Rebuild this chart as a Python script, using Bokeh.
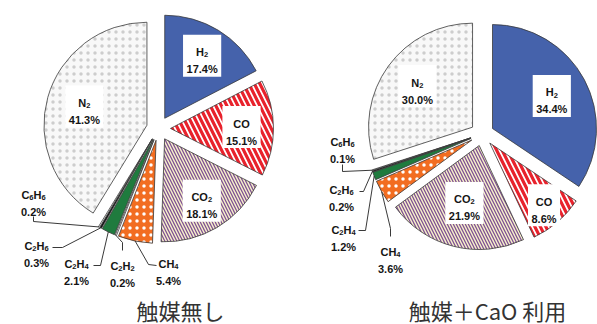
import re
import numpy as np
from bokeh.plotting import figure
from bokeh.models import Range1d, ColumnDataSource
from bokeh.embed import file_html
from bokeh.resources import INLINE
from bokeh.core.properties import value

# Product gas composition (%), clockwise from 12 o'clock
gases_a = ["H2", "CO", "CO2", "CH4", "C2H2", "C2H4", "C2H6", "C6H6", "N2"]
share_a = [17.4, 15.1, 18.1, 5.4, 0.2, 2.1, 0.3, 0.2, 41.3]
gases_b = ["H2", "CO", "CO2", "CH4", "C2H4", "C2H6", "C6H6", "N2"]
share_b = [34.4, 8.6, 21.9, 3.6, 1.2, 0.2, 0.1, 30.0]
titles = ["触媒無し", "触媒＋CaO 利用"]

W, H = 597, 324

# fill, hatch pattern, hatch colour, hatch scale, hatch weight
STYLE = {
    "H2":   ("#4562ab", " ", "#4562ab", 6, 1),
    "CO":   ("#ffffff", "left_diagonal_line", "#e8222c", 11, 3.2),
    "CO2":  ("#f8f2cc", "left_diagonal_line", "#7f5193", 6, 1.3),
    "CH4":  ("#f26d21", "dot", "#ffffff", 7, 0.4),
    "C2H2": ("#ffffff", " ", "#ffffff", 6, 1),
    "C2H4": ("#1f7b3e", " ", "#1f7b3e", 6, 1),
    "C2H6": ("#111111", " ", "#111111", 6, 1),
    "C6H6": ("#ffffff", " ", "#ffffff", 6, 1),
    "N2":   ("#f8f8f8", "dot", "#cdcdcd", 7, 1.5),
}

FONT = value("Liberation Sans")
FS = 11            # label font size, px
SUB = 0.68         # subscript size ratio
# advance widths (em) of the bold sans face used for the labels
ADV = {"C": 0.722, "H": 0.722, "O": 0.778, "N": 0.722, ".": 0.278, "%": 0.889}

p = figure(width=W, height=H, output_backend="svg", toolbar_location=None,
           x_axis_type=None, y_axis_type=None, min_border=0,
           x_range=Range1d(0, W), y_range=Range1d(0, H))
p.outline_line_color = None
p.grid.visible = False
p.background_fill_color = "white"
p.border_fill_color = "white"


def fy(y_px):
    """screen row (top = 0) -> data y"""
    return H - y_px


def adv(s, size):
    return sum(ADV.get(c, 0.556) for c in s) * size


class Labels:
    """collects formula labels (with real subscripts) for a few text glyphs"""

    def __init__(self):
        self.main = dict(x=[], y=[], t=[])
        self.sub = dict(x=[], y=[], t=[])
        self.box = dict(x=[], y=[], w=[], h=[])

    def add(self, cx, cy, formula, pct, gap, boxed):
        runs = re.findall(r"[A-Z]+|\d+", formula)
        widths = [adv(r, FS) if r[0].isalpha() else adv(r, FS * SUB) for r in runs]
        w1 = sum(widths)
        b1 = cy - gap / 2 + 0.36 * FS
        x = cx - w1 / 2
        for r, w in zip(runs, widths):
            d = self.main if r[0].isalpha() else self.sub
            d["x"].append(x)
            d["y"].append(fy(b1 + (0 if r[0].isalpha() else 0.24 * FS)))
            d["t"].append(r)
            x += w
        ptxt = f"{pct:.1f}%"
        w2 = adv(ptxt, FS)
        self.main["x"].append(cx - w2 / 2)
        self.main["y"].append(fy(cy + gap / 2 + 0.36 * FS))
        self.main["t"].append(ptxt)
        if boxed:
            self.box["x"].append(cx)
            self.box["y"].append(fy(cy - 1))
            self.box["w"].append(max(w1, w2) + 7)
            self.box["h"].append(gap + FS + 14)

    def draw(self):
        p.rect(self.box["x"], self.box["y"], width=self.box["w"],
               height=self.box["h"], fill_color="white", line_color=None)
        p.text(self.main["x"], self.main["y"], text=self.main["t"],
               text_font=FONT, text_font_style="bold", text_font_size=f"{FS}px",
               text_color="#151515", text_align="left", text_baseline="alphabetic")
        p.text(self.sub["x"], self.sub["y"], text=self.sub["t"],
               text_font=FONT, text_font_style="bold",
               text_font_size=f"{FS * SUB:.1f}px", text_color="#151515",
               text_align="left", text_baseline="alphabetic")


labels = Labels()


def draw_pie(gases, shares, cx, cy, radius, explode, inner, outer):
    fr = np.array(shares) / sum(shares)
    ends = np.cumsum(fr)
    starts = ends - fr
    mids = (starts + ends) / 2 * 2 * np.pi          # clockwise from top
    ux, uy = np.sin(mids), np.cos(mids)              # unit vectors (y up)

    src = ColumnDataSource(dict(
        x=cx + explode * ux,
        y=fy(cy) + explode * uy,
        a0=np.pi / 2 - starts * 2 * np.pi,
        a1=np.pi / 2 - ends * 2 * np.pi,
        fill=[STYLE[g][0] for g in gases],
        hp=[STYLE[g][1] for g in gases],
        hc=[STYLE[g][2] for g in gases],
        hs=[STYLE[g][3] for g in gases],
        hw=[STYLE[g][4] for g in gases],
    ))
    p.wedge(x="x", y="y", radius=radius, start_angle="a0", end_angle="a1",
            direction="clock", source=src, fill_color="fill",
            hatch_pattern="hp", hatch_color="hc", hatch_scale="hs",
            hatch_weight="hw", line_color="#3a3a3a", line_width=0.8)

    # boxed labels inside the big slices
    for i, g in enumerate(gases):
        if g in inner:
            d = inner[g]
            labels.add(cx + d * ux[i], cy - d * uy[i], g, shares[i], 17, True)

    # outside labels with leader lines for the thin slices
    xs, ys = [], []
    for i, g in enumerate(gases):
        if g in outer:
            (tx, ty), bends = outer[g]
            labels.add(tx, ty, g, shares[i], 16.5, False)
            r_tip = explode + radius
            xs.append([b[0] for b in bends] + [cx + r_tip * ux[i]])
            ys.append([fy(b[1]) for b in bends] + [fy(cy) + r_tip * uy[i]])
    p.multi_line(xs, ys, line_color="#222222", line_width=0.9)


draw_pie(gases_a, share_a, 158, 128, 103, 12,
         inner={"H2": 84, "CO": 83, "CO2": 85, "N2": 77},
         outer={
             "C6H6": ((33, 199), [(33, 216), (33, 221)]),
             "C2H6": ((36, 250), [(52, 247), (62, 247)]),
             "C2H4": ((76, 268), [(93, 265), (100, 265)]),
             "C2H2": ((122, 270), [(122, 250), (122, 242)]),
             "CH4":  ((168, 268), [(156, 265), (148, 264)]),
         })

draw_pie(gases_b, share_b, 481.6, 133.6, 104, 11.8,
         inner={"H2": 79, "CO": 95, "CO2": 72, "N2": 80},
         outer={
             "C6H6": ((342, 146), [(342, 164), (342, 171)]),
             "C2H6": ((341, 194), [(359, 191), (363, 191)]),
             "C2H4": ((343, 234), [(358, 230), (365, 230)]),
             "CH4":  ((390, 256), [(390, 236), (390, 228)]),
         })

labels.draw()

p.text([180, 487], [fy(309), fy(309)], text=titles,
       text_font=value("Noto Sans CJK JP"), text_font_size="22px",
       text_color="#333333", text_align="center", text_baseline="middle")

open("out.html", "w").write(file_html(p, INLINE))
